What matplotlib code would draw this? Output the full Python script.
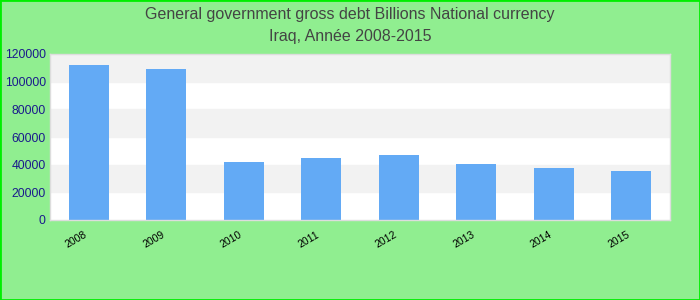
import matplotlib
matplotlib.use('Agg')
import matplotlib.pyplot as plt

years = ['2008', '2009', '2010', '2011', '2012', '2013', '2014', '2015']
debt = [112000, 109200, 42000, 45000, 47000, 40500, 37600, 35400]
yticks = [0, 20000, 40000, 60000, 80000, 100000, 120000]

plt.rcParams['font.family'] = ['Liberation Sans', 'DejaVu Sans']

fig = plt.figure(figsize=(7, 3), dpi=100, facecolor='#90ee90')
ax = fig.add_axes([50 / 700, 80 / 300, 620 / 700, 166 / 300])
ax.set_facecolor('white')

# alternating horizontal bands
for i in range(len(yticks) - 1):
    if i % 2 == 1:
        ax.axhspan(yticks[i], yticks[i + 1], color='#f2f2f2', zorder=0)

x = range(len(years))
ax.bar(x, debt, width=0.52, color='#63aaf5', zorder=2)

ax.set_xlim(-0.5, len(years) - 0.5)
ax.set_ylim(0, 120000)
ax.set_yticks(yticks)
ax.set_yticklabels([str(v) for v in yticks], color='#1a1a8c', fontsize=8.7)
ax.set_xticks(list(x))
ax.set_xticklabels(years, rotation=30, ha='right', fontsize=7.5, color='black')
ax.tick_params(axis='both', length=0, pad=3)
ax.tick_params(axis='x', pad=7)
for s in ax.spines.values():
    s.set_color('#dddddd')
    s.set_linewidth(1)

fig.text(0.5, 1 - 14 / 300, 'General government gross debt Billions National currency',
         ha='center', va='center', fontsize=11.5, color='#444444')
fig.text(0.5, 1 - 37 / 300, 'Iraq, Année 2008-2015',
         ha='center', va='center', fontsize=11.5, color='#444444')

# bright green outer frame
fig.patches.append(plt.Rectangle((0, 0), 1, 1, transform=fig.transFigure,
                                 fill=False, edgecolor='#00ee00', linewidth=2))

fig.savefig('out.png', dpi=100, facecolor=fig.get_facecolor())
